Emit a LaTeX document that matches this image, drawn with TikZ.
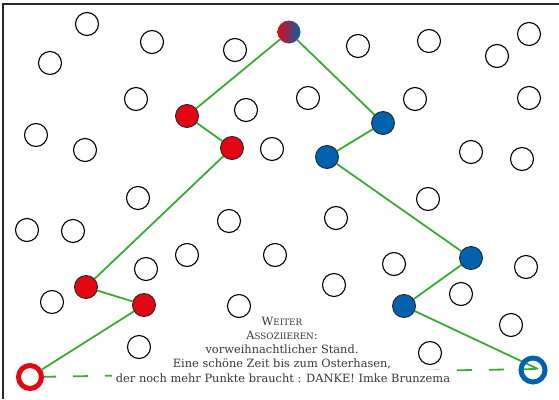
\documentclass[tikz,border=0pt]{standalone}
\usepackage{fontspec}
\setmainfont{DejaVu Serif}
\definecolor{cred}{RGB}{227,6,19}
\definecolor{cblue}{RGB}{0,98,172}
\definecolor{cgreen}{RGB}{58,170,53}
\definecolor{ctext}{RGB}{55,55,55}
\definecolor{cframe}{RGB}{40,40,40}
\pgfdeclarelayer{background}
\pgfsetlayers{background,main}
\newcommand{\smc}[1]{{\fontsize{8.8}{14}\selectfont #1}}
\begin{document}
\begin{tikzpicture}[x=1pt,y=-1pt,
  dot/.style={circle,inner sep=0pt,minimum size=23pt,draw=black,line width=1.1pt,fill=white},
  reddot/.style={dot,fill=cred,draw=black!85,line width=0.9pt},
  bluedot/.style={dot,fill=cblue,draw=black!85,line width=0.9pt},
  greenline/.style={draw=cgreen,line width=1.8pt},
  txt/.style={anchor=base,inner sep=1pt,text=ctext,font=\fontsize{11.4}{14}\selectfont}]
\useasboundingbox (0,0) rectangle (559,399);
\draw[cframe,line width=1.3pt] (3,399) -- (3,4) -- (559,4);
% empty circles
\foreach \x/\y [count=\i] in {87/24,152/42,235/50,50/63,358/46,429/41,497/56,529/34,
  136/99,246/110,308/98,415/99,529/98,36/135,85/150,272/149,471/152,522/159,
  138/198,229/221,336/218,428/199,27/230,73/231,187/255,146/269,275/255,394/264,526/267,
  52/302,239/306,334/285,461/294,511/325,139/347,430/353}
  \node[dot] (c\i) at (\x,\y) {};
% path nodes
\node[circle,inner sep=0pt,minimum size=23pt,left color=cred,right color=cblue] (top) at (289,32) {};
\node[reddot] (r1) at (187,116) {};
\node[reddot] (r2) at (232,148) {};
\node[reddot] (r3) at (86,287) {};
\node[reddot] (r4) at (144,305) {};
\node[bluedot] (b1) at (383,123) {};
\node[bluedot] (b2) at (327,157) {};
\node[bluedot] (b3) at (471,258) {};
\node[bluedot] (b4) at (404,306) {};
\node[circle,inner sep=0pt,minimum size=23pt,draw=cred,line width=5pt,fill=white] (start) at (30,377) {};
\node[circle,inner sep=0pt,minimum size=24pt,draw=cblue,line width=5pt] (goal) at (533,370) {};
\coordinate (tip) at (538,369);
% text
\node[txt] (t1) at (282,325) {W\smc{EITER}};
\node[txt] (t2) at (282,339) {A\smc{SSOZIIEREN}:};
\node[txt] (t3) at (282,353) {vorweihnachtlicher Stand.};
\node[txt] (t4) at (282,367) {Eine schöne Zeit bis zum Osterhasen,};
\node[txt,fill=white,inner xsep=4pt,inner ysep=3pt] (t5) at (283,382) {der noch mehr Punkte braucht : DANKE! Imke Brunzema};
\begin{pgfonlayer}{background}
\draw[greenline] (top) -- (r1) -- (r2) -- (r3) -- (r4) -- (start);
\draw[greenline] (top) -- (b1) -- (b2) -- (b3) -- (b4) -- (tip);
\draw[greenline,dash pattern=on 15pt off 17pt,dash phase=21pt] (start.center) -- (tip);
\end{pgfonlayer}
\end{tikzpicture}
\end{document}
